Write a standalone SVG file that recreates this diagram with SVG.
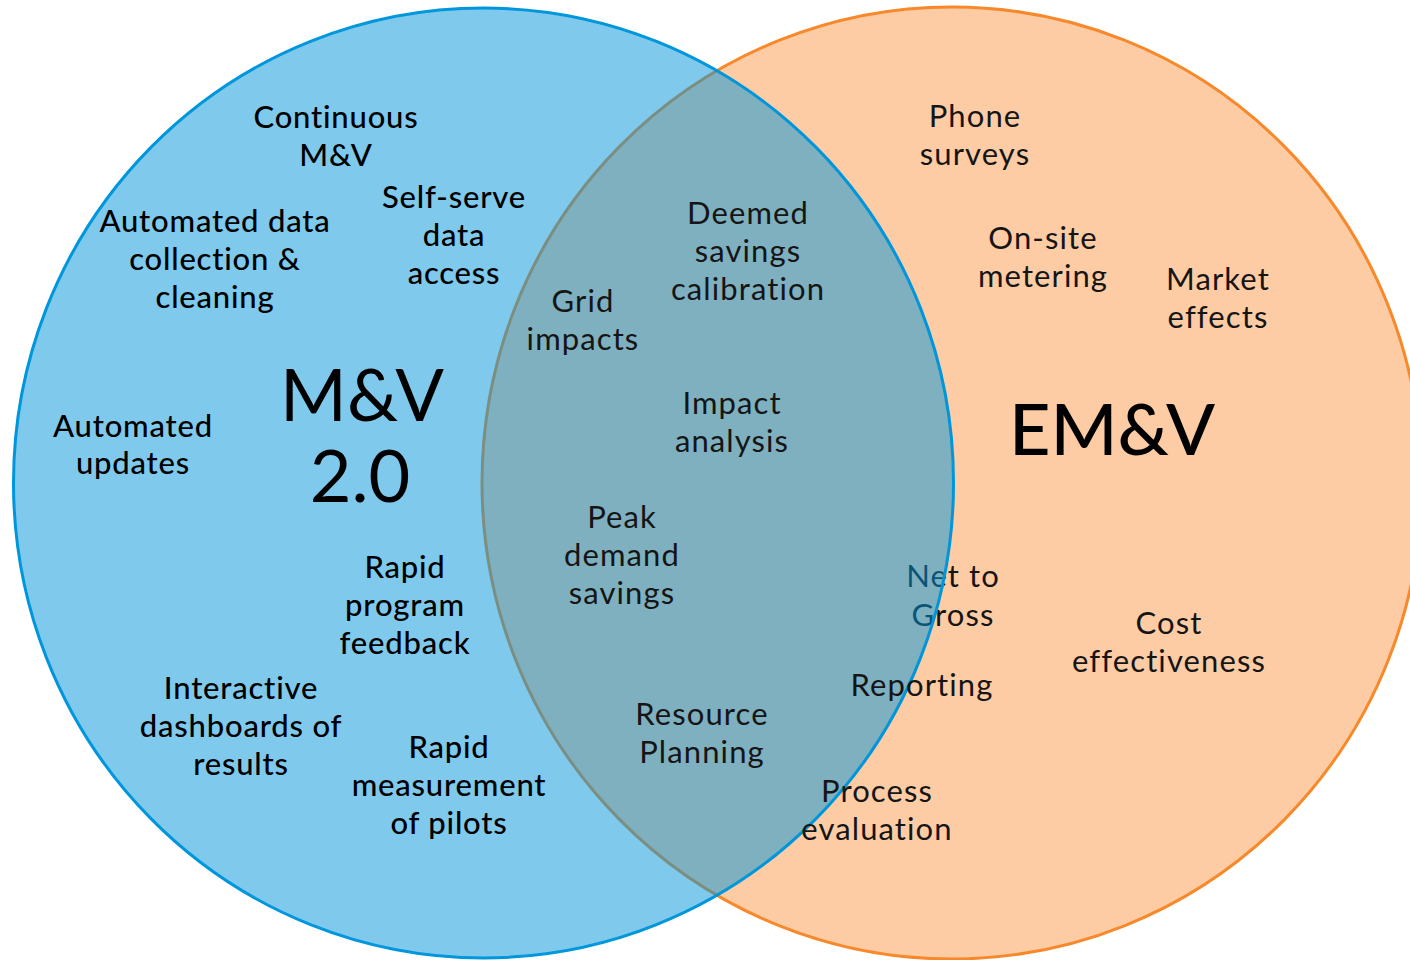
<svg xmlns="http://www.w3.org/2000/svg" width="1410" height="960" viewBox="0 0 1410 960">
  <style>
    text { font-family: Lato, "Open Sans", "Liberation Sans", sans-serif; text-anchor: middle; }
    .mv { font-size: 31px; font-weight: 500; fill: #000; letter-spacing: 0.8px; }
    .em { font-size: 31px; font-weight: 400; fill: #151515; letter-spacing: 1.1px; }
    .big { font-size: 72px; fill: #000; }
  </style>
  <rect width="1410" height="960" fill="#ffffff"/>

  <!-- EM&V set -->
  <g id="emv-circle">
    <ellipse cx="952" cy="483" rx="470" ry="476" fill="#FDCCA4" stroke="#F7892B" stroke-width="3"/>
  </g>
  <!-- label that sits under the translucent M&V 2.0 set -->
  <g id="net-to-gross">
    <text class="em" x="953" y="587">Net to</text>
    <text class="em" x="953" y="626">Gross</text>
  </g>

  <!-- M&V 2.0 set, translucent fill over the EM&V set -->
  <g id="mv-circle">
    <ellipse cx="483.5" cy="483" rx="470" ry="475" fill="#0093D9" fill-opacity="0.5" stroke="#0096DB" stroke-width="3"/>
  </g>

  <!-- M&V 2.0 only -->
  <g id="mv-title">
    <text class="big" x="362" y="421">M&amp;V</text>
    <text class="big" x="360" y="502">2.0</text>
  </g>
  <g id="continuous">
    <text class="mv" x="336" y="128">Continuous</text>
    <text class="mv" x="336" y="166">M&amp;V</text>
  </g>
  <g id="self-serve">
    <text class="mv" x="454" y="208">Self-serve</text>
    <text class="mv" x="454" y="246">data</text>
    <text class="mv" x="454" y="284">access</text>
  </g>
  <g id="automated-data">
    <text class="mv" x="215" y="232">Automated data</text>
    <text class="mv" x="215" y="270">collection &amp;</text>
    <text class="mv" x="215" y="308">cleaning</text>
  </g>
  <g id="automated-updates">
    <text class="mv" x="133" y="437">Automated</text>
    <text class="mv" x="133" y="474">updates</text>
  </g>
  <g id="rapid-feedback">
    <text class="mv" x="405" y="578">Rapid</text>
    <text class="mv" x="405" y="616">program</text>
    <text class="mv" x="405" y="654">feedback</text>
  </g>
  <g id="dashboards">
    <text class="mv" x="241" y="699">Interactive</text>
    <text class="mv" x="241" y="737">dashboards of</text>
    <text class="mv" x="241" y="775">results</text>
  </g>
  <g id="rapid-pilots">
    <text class="mv" x="449" y="758">Rapid</text>
    <text class="mv" x="449" y="796">measurement</text>
    <text class="mv" x="449" y="834">of pilots</text>
  </g>

  <!-- shared -->
  <g id="deemed">
    <text class="em" x="748" y="224">Deemed</text>
    <text class="em" x="748" y="262">savings</text>
    <text class="em" x="748" y="300">calibration</text>
  </g>
  <g id="grid">
    <text class="em" x="583" y="312">Grid</text>
    <text class="em" x="583" y="350">impacts</text>
  </g>
  <g id="impact">
    <text class="em" x="732" y="414">Impact</text>
    <text class="em" x="732" y="452">analysis</text>
  </g>
  <g id="peak">
    <text class="em" x="622" y="528">Peak</text>
    <text class="em" x="622" y="566">demand</text>
    <text class="em" x="622" y="604">savings</text>
  </g>
  <g id="resource">
    <text class="em" x="702" y="725">Resource</text>
    <text class="em" x="702" y="763">Planning</text>
  </g>

  <!-- EM&V only -->
  <g id="emv-title">
    <text class="big" x="1112" y="455" font-weight="500">EM&amp;V</text>
  </g>
  <g id="phone">
    <text class="em" x="975" y="127">Phone</text>
    <text class="em" x="975" y="165">surveys</text>
  </g>
  <g id="onsite">
    <text class="em" x="1043" y="249">On-site</text>
    <text class="em" x="1043" y="287">metering</text>
  </g>
  <g id="market">
    <text class="em" x="1218" y="290">Market</text>
    <text class="em" x="1218" y="328">effects</text>
  </g>
  <g id="cost">
    <text class="em" x="1169" y="634">Cost</text>
    <text class="em" x="1169" y="672">effectiveness</text>
  </g>
  <g id="reporting">
    <text class="em" x="922" y="696">Reporting</text>
  </g>
  <g id="process">
    <text class="em" x="877" y="802">Process</text>
    <text class="em" x="877" y="840">evaluation</text>
  </g>

  <g id="connectors"></g>
</svg>
